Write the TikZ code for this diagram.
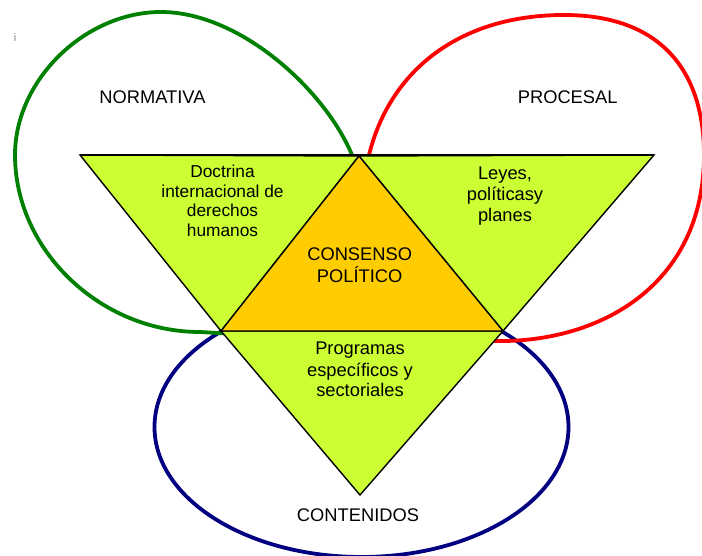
\documentclass[tikz,border=0pt]{standalone}
\usepackage{fontspec}
\setmainfont{Liberation Sans}
\definecolor{limefill}{HTML}{CCFF33}
\definecolor{orangefill}{HTML}{FFCC00}
\definecolor{ringgreen}{HTML}{008000}
\definecolor{ringred}{HTML}{FF0000}
\definecolor{ringblue}{HTML}{000080}
\begin{document}
\begin{tikzpicture}[x=1pt,y=-1pt,
  ring/.style={line width=3.8pt},
  tri/.style={draw=black,line width=1.4pt,line join=miter},
  lbl/.style={font=\fontsize{18.3}{21}\selectfont, inner sep=0pt, anchor=base},
]
\useasboundingbox (0,0) rectangle (702,556);
\clip (0,0) rectangle (702,556);
% outer rings
\draw[ring, draw=ringblue] (361.5,427) ellipse [x radius=207pt, y radius=130pt];
\draw[ring, draw=ringgreen] (356,165) -- (352,155)
  .. controls (325,90) and (240,12) .. (161,12)
  .. controls (85,12) and (15,80) .. (15,155)
  .. controls (15,250) and (100,332) .. (200,332) -- (235,334);
\draw[ring, draw=ringred] (367,164) -- (369,155)
  .. controls (390,70) and (460,15) .. (564,15)
  .. controls (660,15) and (704,70) .. (704,155)
  .. controls (704,285) and (600,343) .. (495,341) -- (485,340);
% triangle vertices
\coordinate (A) at (80,155);
\coordinate (B) at (654,155);
\coordinate (T) at (359,156);
\coordinate (L) at (221,331);
\coordinate (R) at (503,331);
\coordinate (C) at (360,495);
\filldraw[tri, fill=limefill] (A) -- (T) -- (L) -- cycle;
\filldraw[tri, fill=limefill] (T) -- (B) -- (R) -- cycle;
\filldraw[tri, fill=limefill] (L) -- (R) -- (C) -- cycle;
\filldraw[tri, fill=orangefill] (T) -- (R) -- (L) -- cycle;
\draw[tri] (A) -- (B);
% texts
\node[font=\fontsize{11}{13}\selectfont, text=gray, inner sep=0pt, anchor=base] (imark) at (15,42) {i};
\node[lbl] (normativa) at (152.5,104) {NORMATIVA};
\node[lbl] (procesal) at (567.7,104) {PROCESAL};
\node[lbl] (contenidos) at (358,521.7) {CONTENIDOS};
\node[lbl, font=\fontsize{17.3}{19.5}\selectfont] (doctrina) at (222.5,177.7)
  {\begin{tabular}[t]{@{}c@{}}Doctrina\\internacional de\\derechos\\humanos\end{tabular}};
\node[lbl] (leyes) at (505,179.3)
  {\begin{tabular}[t]{@{}c@{}}Leyes,\\políticasy\\planes\end{tabular}};
\node[lbl] (consenso) at (359.7,260.7)
  {\begin{tabular}[t]{@{}c@{}}CONSENSO\\POLÍTICO\end{tabular}};
\node[lbl] (programas) at (360,355)
  {\begin{tabular}[t]{@{}c@{}}Programas\\específicos y\\sectoriales\end{tabular}};
\end{tikzpicture}
\end{document}
